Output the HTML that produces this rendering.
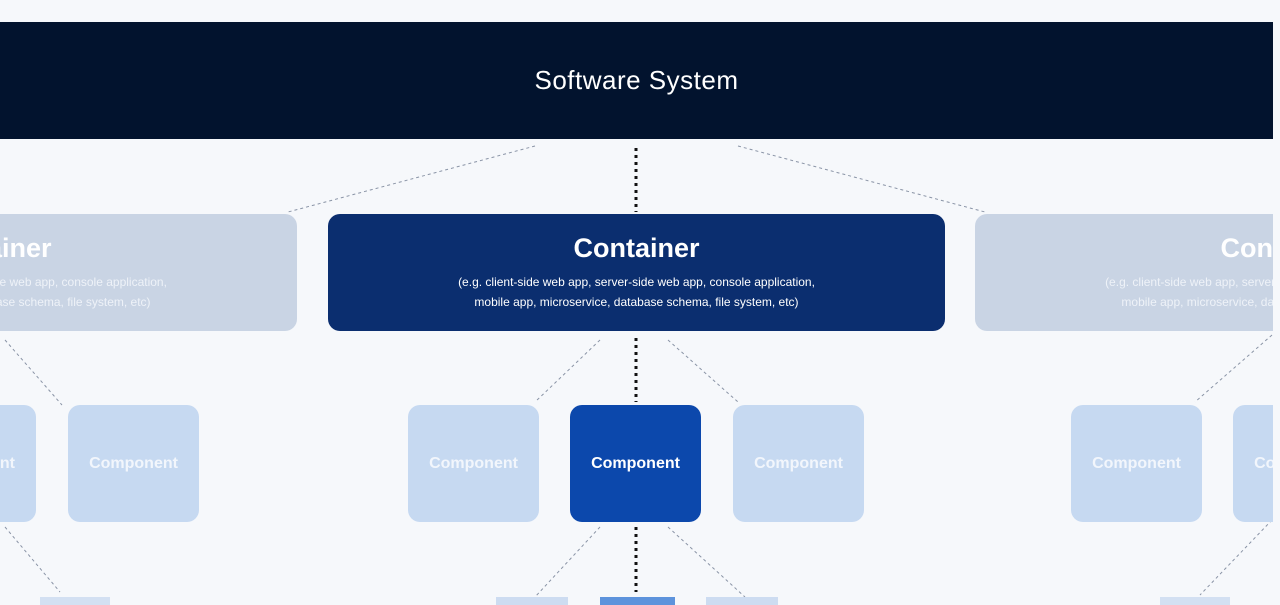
<!DOCTYPE html>
<html><head><meta charset="utf-8"><style>
*{margin:0;padding:0;box-sizing:border-box}
html,body{width:1280px;height:605px;overflow:hidden}
body{background:#f6f8fb;position:relative;font-family:"Liberation Sans",sans-serif}
.clip{position:absolute;overflow:hidden}
.b{position:absolute;display:flex;flex-direction:column;align-items:center;justify-content:center;text-align:center;color:#fff}
.top{left:0;top:22px;width:1273px;height:117px;background:#02132e;font-size:26px;letter-spacing:0.5px}
.ctr{background:#0b2e6f;border-radius:12px}
.ctrl{background:#c9d4e4;border-radius:12px}
.ct{font-size:27px;font-weight:bold;margin-bottom:8px}
.cs{font-size:12px;line-height:20px}
.cmp{width:131px;height:117px;border-radius:12px;background:#c6d9f1;font-size:16px;font-weight:bold;color:#f2f6fc}
.cmpd{background:#0c48ac;color:#fff}
svg{position:absolute;left:0;top:0}
</style></head><body>
<svg width="1280" height="605">
<g stroke="#8a94a6" stroke-width="1" stroke-dasharray="3,3" fill="none">
<line x1="535" y1="146" x2="288" y2="212"/>
<line x1="738" y1="146" x2="985" y2="212"/>
<line x1="600" y1="340" x2="535" y2="402"/>
<line x1="668" y1="340" x2="738" y2="402"/>
<line x1="5" y1="340" x2="62" y2="405"/>
<line x1="1272" y1="335" x2="1195" y2="402"/>
<line x1="5" y1="527" x2="60" y2="592"/>
<line x1="600" y1="527" x2="535" y2="597"/>
<line x1="668" y1="527" x2="745" y2="597"/>
<line x1="1272" y1="520" x2="1200" y2="595"/>
</g>
<g stroke="#111" stroke-width="3" stroke-dasharray="3,4" fill="none">
<line x1="636" y1="148" x2="636" y2="212"/>
<line x1="636" y1="338" x2="636" y2="402"/>
<line x1="636" y1="527" x2="636" y2="592"/>
</g>
<rect x="496" y="597" width="72" height="8" fill="#cddcf1"/>
<rect x="600" y="597" width="75" height="8" fill="#5d93dc"/>
<rect x="706" y="597" width="72" height="8" fill="#cddcf1"/>
<rect x="40" y="597" width="70" height="8" fill="#d3e0f2"/>
<rect x="1160" y="597" width="70" height="8" fill="#d3e0f2"/>
</svg>
<div class="b top">Software System</div>
<div class="clip" style="left:0;top:214px;width:297px;height:117px">
<div class="b ctrl" style="left:-320px;top:0;width:617px;height:117px"><div class="ct">Container</div><div class="cs" style="color:#eef2f8">(e.g. client-side web app, server-side web app, console application,<br>mobile app, microservice, database schema, file system, etc)</div></div>
</div>
<div class="b ctr" style="left:328px;top:214px;width:617px;height:117px"><div class="ct">Container</div><div class="cs">(e.g. client-side web app, server-side web app, console application,<br>mobile app, microservice, database schema, file system, etc)</div></div>
<div class="clip" style="left:975px;top:214px;width:298px;height:117px">
<div class="b ctrl" style="left:0;top:0;width:617px;height:117px"><div class="ct">Container</div><div class="cs" style="color:#eef2f8">(e.g. client-side web app, server-side web app, console application,<br>mobile app, microservice, database schema, file system, etc)</div></div>
</div>
<div class="clip" style="left:0;top:405px;width:36px;height:117px">
<div class="b cmp" style="left:-95px;top:0">Component</div>
</div>
<div class="b cmp" style="left:68px;top:405px">Component</div>
<div class="b cmp" style="left:408px;top:405px">Component</div>
<div class="b cmp cmpd" style="left:570px;top:405px">Component</div>
<div class="b cmp" style="left:733px;top:405px">Component</div>
<div class="b cmp" style="left:1071px;top:405px">Component</div>
<div class="clip" style="left:1233px;top:405px;width:40px;height:117px">
<div class="b cmp" style="left:0;top:0">Component</div>
</div>
</body></html>
